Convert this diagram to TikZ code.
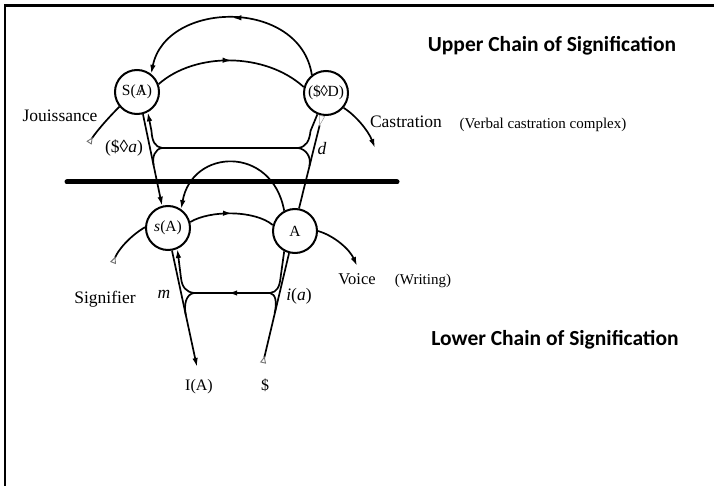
\documentclass[tikz,border=0pt]{standalone}
\usepackage{fontspec}
\setmainfont{Liberation Serif}
\newfontfamily\titlefont{Carlito}
\usetikzlibrary{arrows.meta,decorations.markings}
\newcommand{\barA}{\ooalign{A\cr\hidewidth/\hidewidth\cr}}
\tikzset{
  circ/.style={circle,draw,minimum size=44pt,inner sep=0pt,line width=2pt,font=\fontsize{15.5}{18}\selectfont},
  vec/.style={line width=1.7pt},
  arr/.style={vec,-{Latex[length=9pt,width=5.5pt]}},
  tail/.style={vec,{Triangle[open,reversed,length=7pt,width=6pt,line width=0.9pt,color=black!55]}-},
  graytail/.style={vec,{Triangle[open,reversed,length=11pt,width=6pt,line width=0.5pt,color=black!40]}-},
  midarr/.style={postaction={decorate},decoration={markings,mark=at position #1 with {\arrow{Latex[length=9pt,width=5.5pt]}}}},
  lbl/.style={font=\fontsize{17.5}{20}\selectfont,inner sep=0pt,anchor=base},
  small/.style={font=\fontsize{15}{18}\selectfont,inner sep=0pt,anchor=base},
  ttl/.style={font=\titlefont\bfseries\fontsize{21.5}{24}\selectfont,inner sep=0pt,anchor=base}
}
\begin{document}
\begin{tikzpicture}[x=1pt,y=-1pt]
\useasboundingbox (0,0) rectangle (714,486);
\draw[line width=2.5pt] (5,486) -- (5,5.5) -- (714,5.5);

% circles
\node[circ] (SA) at (137,92) {S(\barA)};
\node[circ] (SD) at (326,93) {(\$\kern-0.5pt◊\kern-0.5pt D)};
\node[circ] (sA) at (168,228) {\textit{s}(A)};
\node[circ] (A) at (295,231) {A};

% free ends
\coordinate (Jt) at (89,143);
\coordinate (Ct) at (375,148);
\coordinate (Sgt) at (113,263);
\coordinate (Vt) at (357,266);
\coordinate (IAt) at (197,367);
\coordinate (St) at (263,363);

% thick bar
\draw[line width=5pt,line cap=round] (67,182) -- (397,182);

% upper arcs
\draw[graytail,-{Latex[length=9pt,width=5.5pt]},midarr=0.5] (SD.128) .. controls (300,-2) and (166,0) .. (SA.52);
\draw[vec,midarr=0.5] (SA.20) .. controls (195,52) and (265,52) .. (SD.165);

% jouissance / castration
\draw[tail] (Jt) .. controls (96,132) and (108,118) .. (SA.-140);
\draw[arr] (SD.-40) .. controls (355,115) and (368,130) .. (Ct);

% upper junction
\draw[arr] (SA.-75) -- (sA.105);
\draw[graytail] (SD.-100) -- (A.80);
\draw[vec] (298,148) -- (162,148);
\draw[arr] (162,148) .. controls (155,147) and (152,141) .. (151.5,131) -- (SA.-62);
\draw[vec] (162,148) .. controls (155,149) and (151.9,157) .. (153.6,165);
\draw[vec] (298,148) .. controls (306,147) and (309.5,141) .. (310.5,131) -- (SD.-112);
\draw[vec] (298,148) .. controls (306,149) and (311.6,157) .. (309.4,166);

% arc A -> s(A)
\draw[graytail,-{Latex[length=9pt,width=5.5pt]}] (A.118) .. controls (272,145) and (192,148) .. (sA.55);

% lower chain
\draw[vec,midarr=0.5] (sA.15) .. controls (210,210) and (255,210) .. (A.165);
\draw[tail] (Sgt) .. controls (118,250) and (130,236) .. (sA.178);
\draw[arr] (A.0) .. controls (335,236) and (350,250) .. (Vt);

% lower junction
\draw[arr] (sA.-80) -- (IAt);
\draw[tail] (St) -- (A.-105);
\draw[vec,midarr=0.55] (270,293) -- (194,293);
\draw[arr] (194,293) .. controls (186,292) and (182,287) .. (181,278) -- (sA.-66);
\draw[vec] (194,293) .. controls (186,294) and (183.6,305) .. (185.8,315);
\draw[vec] (270,293) .. controls (277,292) and (279.5,287) .. (280.5,278) -- (A.-118);
\draw[vec] (270,293) .. controls (276,294) and (277,303) .. (274.7,313);

% labels
\node[lbl] (jou) at (60,122) {Jouissance};
\node[lbl] (sda) at (124,153) {(\$◊\textit{a})};
\node[lbl] (cas) at (406,128) {Castration};
\node[small] (vcc) at (543,129) {(Verbal castration complex)};
\node[lbl] (dl) at (322,155) {\textit{d}};
\node[lbl] (sig) at (105,303) {Signifier};
\node[small,font=\fontsize{16.5}{19}\selectfont] (voi) at (357,284) {Voice};
\node[small] (wri) at (423,284) {(Writing)};
\node[lbl] (ml) at (164,298) {\textit{m}};
\node[lbl] (ial) at (299,300) {\textit{i}(\textit{a})};
\node[lbl,font=\fontsize{16}{19}\selectfont] (IA) at (199,390) {I(A)};
\node[lbl,font=\fontsize{16}{19}\selectfont] (S) at (265,390) {\$};
\node[ttl] (up) at (552,52) {Upper Chain of Signification};
\node[ttl] (lo) at (555,345) {Lower Chain of Signification};
\end{tikzpicture}
\end{document}
